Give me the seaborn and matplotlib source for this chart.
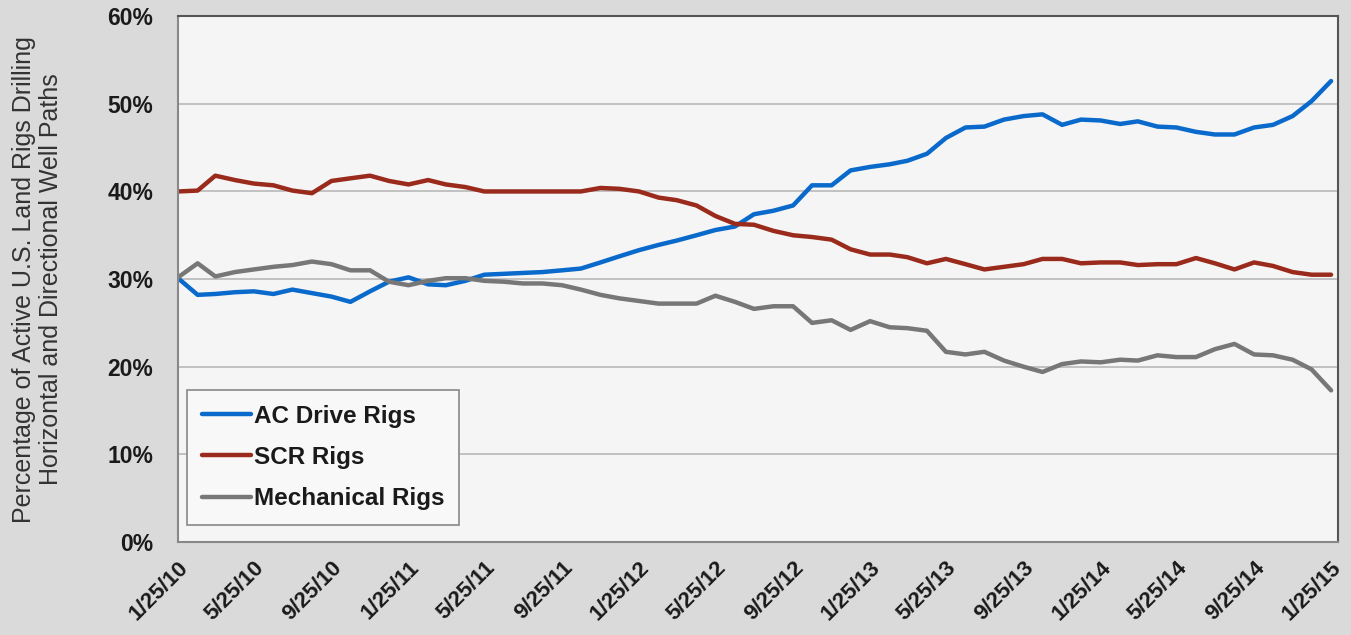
import pandas as pd
import seaborn as sns
import matplotlib.pyplot as plt
from matplotlib.ticker import FuncFormatter

# monthly readings, 1/25/10 .. 1/25/15
dates = pd.date_range("2010-01-01", periods=61, freq="MS") + pd.Timedelta(days=24)

ac_drive = [30.1, 28.2, 28.3, 28.5, 28.6, 28.3, 28.8, 28.4, 28.0, 27.4,
            28.6, 29.7, 30.2, 29.4, 29.3, 29.8, 30.5, 30.6, 30.7, 30.8,
            31.0, 31.2, 31.9, 32.6, 33.3, 33.9, 34.4, 35.0, 35.6, 36.0,
            37.4, 37.8, 38.4, 40.7, 40.7, 42.4, 42.8, 43.1, 43.5, 44.3,
            46.1, 47.3, 47.4, 48.2, 48.6, 48.8, 47.6, 48.2, 48.1, 47.7,
            48.0, 47.4, 47.3, 46.8, 46.5, 46.5, 47.3, 47.6, 48.6, 50.3,
            52.6]

scr = [40.0, 40.1, 41.8, 41.3, 40.9, 40.7, 40.1, 39.8, 41.2, 41.5,
       41.8, 41.2, 40.8, 41.3, 40.8, 40.5, 40.0, 40.0, 40.0, 40.0,
       40.0, 40.0, 40.4, 40.3, 40.0, 39.3, 39.0, 38.4, 37.2, 36.3,
       36.2, 35.5, 35.0, 34.8, 34.5, 33.4, 32.8, 32.8, 32.5, 31.8,
       32.3, 31.7, 31.1, 31.4, 31.7, 32.3, 32.3, 31.8, 31.9, 31.9,
       31.6, 31.7, 31.7, 32.4, 31.8, 31.1, 31.9, 31.5, 30.8, 30.5,
       30.5]

mechanical = [30.2, 31.8, 30.3, 30.8, 31.1, 31.4, 31.6, 32.0, 31.7, 31.0,
              31.0, 29.7, 29.3, 29.8, 30.1, 30.1, 29.8, 29.7, 29.5, 29.5,
              29.3, 28.8, 28.2, 27.8, 27.5, 27.2, 27.2, 27.2, 28.1, 27.4,
              26.6, 26.9, 26.9, 25.0, 25.3, 24.2, 25.2, 24.5, 24.4, 24.1,
              21.7, 21.4, 21.7, 20.7, 20.0, 19.4, 20.3, 20.6, 20.5, 20.8,
              20.7, 21.3, 21.1, 21.1, 22.0, 22.6, 21.4, 21.3, 20.8, 19.7,
              17.3]

series_names = ["AC Drive Rigs", "SCR Rigs", "Mechanical Rigs"]
colors = ["#0a6acc", "#9a2b1c", "#777777"]

df = pd.DataFrame({"date": list(dates) * 3,
                   "value": ac_drive + scr + mechanical,
                   "series": [s for s in series_names for _ in range(61)]})

tick_dates = pd.date_range("2010-01-01", periods=16, freq="4MS") + pd.Timedelta(days=24)

sns.set_style("white")
plt.rcParams["font.family"] = ["Liberation Sans", "DejaVu Sans"]

fig = plt.figure(figsize=(13.51, 6.35), dpi=100, facecolor="#dadada")
ax = fig.add_axes([0.1318, 0.1465, 0.8586, 0.828])
ax.set_facecolor("#f5f5f5")

sns.lineplot(data=df, x="date", y="value", hue="series", palette=colors,
             hue_order=series_names, linewidth=3.2, ax=ax)

ax.set_ylim(0, 60)
ax.set_yticks(range(0, 61, 10))
ax.yaxis.set_major_formatter(FuncFormatter(lambda v, p: f"{int(v)}%"))
ax.set_xlim(dates[0], dates[-1] + pd.Timedelta(days=11))
ax.set_xticks(tick_dates)
ax.set_xticklabels([f"{d.month}/{d.day}/{d.year % 100}" for d in tick_dates],
                   rotation=45, ha="right", rotation_mode="anchor",
                   fontsize=16, fontweight="bold", color="#1a1a1a")
for lab in ax.get_yticklabels():
    lab.set_fontsize(16.5)
    lab.set_fontweight("bold")
    lab.set_color("#1a1a1a")

ax.grid(axis="y", color="#b8b8b8", linewidth=1.2)
ax.tick_params(axis="x", direction="out", length=6, width=1.2, color="#888888", pad=5)
ax.tick_params(axis="y", direction="out", length=6, width=1.2, color="#888888", pad=12)
for side in ["left", "bottom", "right", "top"]:
    ax.spines[side].set_color("#888888")
    ax.spines[side].set_linewidth(1.5)
ax.spines["right"].set_color("#555555")
ax.spines["top"].set_color("#555555")

ax.set_xlabel("")
ax.set_ylabel("Percentage of Active U.S. Land Rigs Drilling\nHorizontal and Directional Well Paths",
              fontsize=18, color="#333333", labelpad=32, linespacing=1.15)

leg = ax.legend(loc="lower left", bbox_to_anchor=(0.008, 0.033), frameon=True,
                fancybox=False, edgecolor="#888888", facecolor="#f8f8f8",
                framealpha=1, prop={"size": 17.5, "weight": "bold"},
                handlelength=2.0, handletextpad=0.15, labelspacing=0.75,
                borderpad=0.6, borderaxespad=0)
leg.get_frame().set_linewidth(1.2)
for t in leg.get_texts():
    t.set_color("#1a1a1a")

fig.savefig("out.png", dpi=100, facecolor=fig.get_facecolor())
